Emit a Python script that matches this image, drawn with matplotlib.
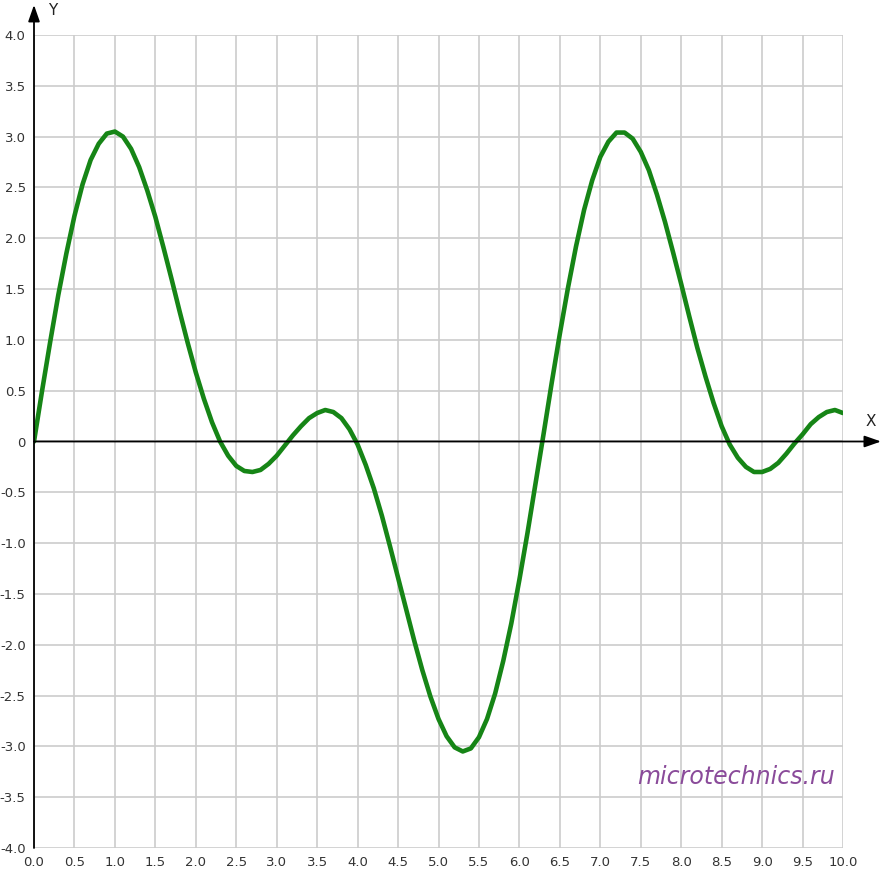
import matplotlib
matplotlib.use("Agg")
import matplotlib.pyplot as plt

# curve sampled every 0.1 along X
x_vals = [round(0.1 * i, 1) for i in range(101)]
y_vals = [0.00, 0.50, 0.98, 1.44, 1.85, 2.22, 2.53, 2.77, 2.93, 3.03, 3.05, 3.00, 2.88, 2.70, 2.47,
          2.21, 1.91, 1.60, 1.28, 0.97, 0.68, 0.42, 0.19, 0.00, -0.14, -0.24, -0.29, -0.30, -0.28,
          -0.22, -0.14, -0.04, 0.06, 0.15, 0.23, 0.28, 0.31, 0.29, 0.23, 0.12, -0.03, -0.23, -0.46,
          -0.73, -1.03, -1.34, -1.65, -1.96, -2.25, -2.51, -2.73, -2.90, -3.01, -3.05, -3.02, -2.91,
          -2.73, -2.48, -2.16, -1.79, -1.36, -0.90, -0.41, 0.08, 0.58, 1.06, 1.51, 1.92, 2.28, 2.57,
          2.80, 2.95, 3.04, 3.04, 2.98, 2.85, 2.67, 2.43, 2.16, 1.86, 1.55, 1.23, 0.92, 0.64, 0.38,
          0.15, -0.03, -0.16, -0.25, -0.30, -0.30, -0.27, -0.21, -0.12, -0.02, 0.07, 0.17, 0.24,
          0.29, 0.31, 0.28]

x_ticks = [0.5 * i for i in range(21)]
x_labels = [f'{t:.1f}' for t in x_ticks]
y_ticks = [-4.0 + 0.5 * i for i in range(17)]
y_labels = ['0' if t == 0 else f'{t:.1f}' for t in y_ticks]

fig = plt.figure(figsize=(8.82, 8.80), dpi=100)
ax = fig.add_axes([34 / 882, 32 / 880, 809 / 882, 813 / 880])

ax.set_xlim(0, 10)
ax.set_ylim(-4, 4)
ax.set_xticks(x_ticks, x_labels)
ax.set_yticks(y_ticks, y_labels)
ax.tick_params(length=0, labelsize=9.5, labelcolor='#333333')
ax.tick_params(axis='x', pad=6)
ax.tick_params(axis='y', pad=6)
for s in ax.spines.values():
    s.set_visible(False)
ax.grid(True, color='#cccccc', lw=1.2)
ax.set_axisbelow(True)

# the curve
ax.plot(x_vals, y_vals, color='#168516', lw=3.3, solid_capstyle='round',
        solid_joinstyle='round', zorder=3)

# axes with arrows
arrow = dict(arrowstyle='-|>,head_length=1.0,head_width=0.35', color='black', lw=1.3,
             shrinkA=0, shrinkB=0)
ax.annotate('', xy=(0, 1.037), xytext=(0, 0), xycoords='axes fraction',
            arrowprops=arrow, annotation_clip=False, zorder=4)
ax.annotate('', xy=(1.047, 0.5), xytext=(0, 0.5), xycoords='axes fraction',
            arrowprops=arrow, annotation_clip=False, zorder=4)
ax.text(0.023, 1.03, 'Y', transform=ax.transAxes, fontsize=11, color='#222222', va='center', ha='center')
ax.text(1.034, 0.525, 'X', transform=ax.transAxes, fontsize=11, color='#222222', va='center', ha='center')

# watermark
ax.text(9.9, -3.3, 'microtechnics.ru', fontsize=17, color='#8a4b9a', style='italic',
        ha='right', va='center', zorder=5)

fig.savefig('out.png')
